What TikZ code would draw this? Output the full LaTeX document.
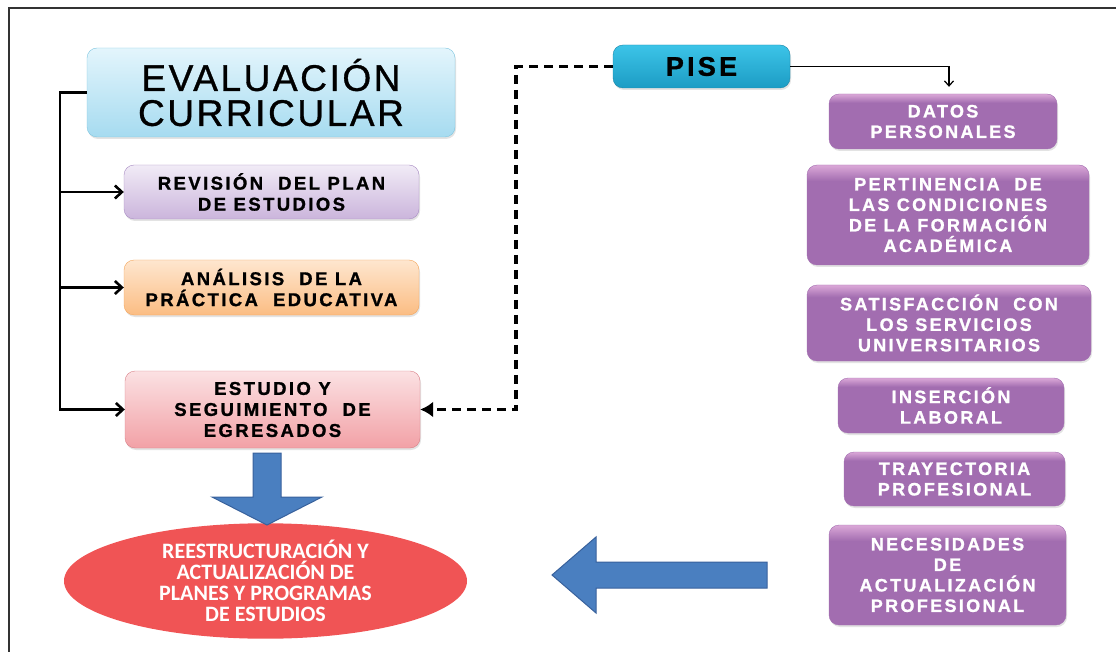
\documentclass[tikz,border=0pt]{standalone}
\usepackage{fontspec}
\usepackage{xcolor}
\usepackage{tikz}
\usetikzlibrary{calc}
\usetikzlibrary{arrows.meta}
\usetikzlibrary{shapes}
\usetikzlibrary{shapes.geometric}
\usetikzlibrary{shadows}
\newfontfamily\headfont[LetterSpace=7, FakeBold=0.9]{Liberation Sans}
\newfontfamily\piseletters[LetterSpace=12, BoldFeatures={FakeBold=1.2}]{Liberation Sans}
\newfontfamily\itemfont[LetterSpace=13, BoldFeatures={FakeBold=1.2}]{Liberation Sans}
\newfontfamily\ovalfont{Carlito}
\definecolor{evaltop}{HTML}{E3F5FC}
\definecolor{evalbot}{HTML}{A6DBF0}
\definecolor{evalline}{HTML}{7FC6E0}
\definecolor{revtop}{HTML}{F1EBF6}
\definecolor{revbot}{HTML}{CBB5DC}
\definecolor{revline}{HTML}{A88CC3}
\definecolor{anatop}{HTML}{FEE6CF}
\definecolor{anabot}{HTML}{FBBD83}
\definecolor{analine}{HTML}{F4A65C}
\definecolor{esttop}{HTML}{FBE1E3}
\definecolor{estbot}{HTML}{F2A1A6}
\definecolor{estline}{HTML}{D98088}
\definecolor{pisetop}{HTML}{3CC4E8}
\definecolor{pisebot}{HTML}{1C9CC4}
\definecolor{piseline}{HTML}{1A86A8}
\definecolor{pplhi}{HTML}{DBA8D8}
\definecolor{pplbase}{HTML}{A26DB0}
\definecolor{ovalred}{HTML}{F05455}
\definecolor{blockblue}{HTML}{4A7FC0}
\definecolor{blockedge}{HTML}{38619C}
\pgfdeclareverticalshading{pplshade}{100bp}{color(0bp)=(pplbase); color(25bp)=(pplbase); color(67bp)=(pplbase); color(75bp)=(pplhi); color(100bp)=(pplhi)}
\tikzset{>=latex}
\tikzstyle{box} = [rectangle, rounded corners=10pt, align=center, inner sep=0pt, drop shadow={shadow xshift=1pt, shadow yshift=-2pt, fill=black!22}]
\tikzstyle{stage} = [box, minimum width=295pt, font=\itemfont\bfseries\fontsize{18.5}{21}\selectfont]
\tikzstyle{aspect} = [box, text=white, draw=pplbase, shading=pplshade, font=\itemfont\bfseries\fontsize{18}{20.5}\selectfont]
\tikzstyle{branch} = [line width=2.6pt, -{Straight Barb[length=7pt, width=13pt]}]

\begin{document}
\begin{tikzpicture}[x=1pt, y=-1pt]
\useasboundingbox (0, 0) rectangle (1116, 652);
\draw [line width=1.5pt, black!80] (9, 652) -- (9, 8) -- (1116, 8);
% left column
\node [box, draw=evalline, top color=evaltop, bottom color=evalbot, minimum width=368pt, minimum height=89pt, font=\headfont\fontsize{37}{35}\selectfont] (eval) at (271, 92.5) {EVALUACIÓN\\CURRICULAR};
\node [stage, draw=revline, top color=revtop, bottom color=revbot, minimum height=54pt] (rev) at (271.5, 192) {REVISIÓN \ DEL PLAN\\DE ESTUDIOS};
\node [stage, draw=analine, top color=anatop, bottom color=anabot, minimum height=55pt] (ana) at (271.5, 287.5) {ANÁLISIS \ DE LA\\PRÁCTICA \ EDUCATIVA};
\node [stage, draw=estline, top color=esttop, bottom color=estbot, minimum height=77pt] (est) at (272.5, 409.5) {ESTUDIO Y\\SEGUIMIENTO \ DE\\EGRESADOS};
\node [ellipse, fill=ovalred, text=white, minimum width=403pt, minimum height=104pt, inner sep=0pt, align=center, font=\ovalfont\bfseries\fontsize{22}{21}\selectfont] (reest) at (265.5, 581) {REESTRUCTURACIÓN Y\\ACTUALIZACIÓN DE\\PLANES Y PROGRAMAS\\DE ESTUDIOS};
% right column
\node [box, draw=piseline, top color=pisetop, bottom color=pisebot, minimum width=177pt, minimum height=43pt, font=\piseletters\bfseries\fontsize{27}{28}\selectfont] (pise) at (701.5, 66.5) {PISE};
\node [aspect, minimum width=228pt, minimum height=55pt] (datos) at (943, 121.5) {DATOS\\PERSONALES};
\node [aspect, minimum width=282pt, minimum height=100pt] (pert) at (948, 215) {PERTINENCIA \ DE\\LAS CONDICIONES\\DE LA FORMACIÓN\\ACADÉMICA};
\node [aspect, minimum width=284pt, minimum height=76pt] (satis) at (949, 323) {SATISFACCIÓN \ CON\\LOS SERVICIOS\\UNIVERSITARIOS};
\node [aspect, minimum width=226pt, minimum height=55pt] (inser) at (951, 405.5) {INSERCIÓN\\LABORAL};
\node [aspect, minimum width=221pt, minimum height=54pt] (tray) at (954.5, 479) {TRAYECTORIA\\PROFESIONAL};
\node [aspect, minimum width=237pt, minimum height=100pt] (nec) at (947.5, 575) {NECESIDADES\\DE\\ACTUALIZACIÓN\\PROFESIONAL};
% connectors
\coordinate (trunk) at ($(eval.west)+(-27, 0)$);
\draw [branch] (eval.west) -- (trunk) |- (est.west);
\draw [branch] (trunk |- rev.west) -- (rev.west);
\draw [branch] (trunk |- ana.west) -- (ana.west);
\draw [line width=3.5pt, dash pattern=on 9pt off 6pt, -{Latex[length=13pt, width=16pt]}] (pise.west) -| ($(est.east)+(96, 0)$) -- (est.east);
\draw [line width=1.2pt, -{Straight Barb[length=5pt, width=9pt]}] (pise.east) -| ($(datos.north)+(6, -7)$);
% block arrows
\filldraw [fill=blockblue, draw=blockedge, line width=1pt] (253, 453) -- (281, 453) -- (281, 497) -- (322, 497) -- (267, 525) -- (212, 497) -- (253, 497) -- cycle;
\filldraw [fill=blockblue, draw=blockedge, line width=1pt] (767, 562) -- (596, 562) -- (596, 537) -- (552, 575) -- (596, 613) -- (596, 588) -- (767, 588) -- cycle;
\end{tikzpicture}
\end{document}
